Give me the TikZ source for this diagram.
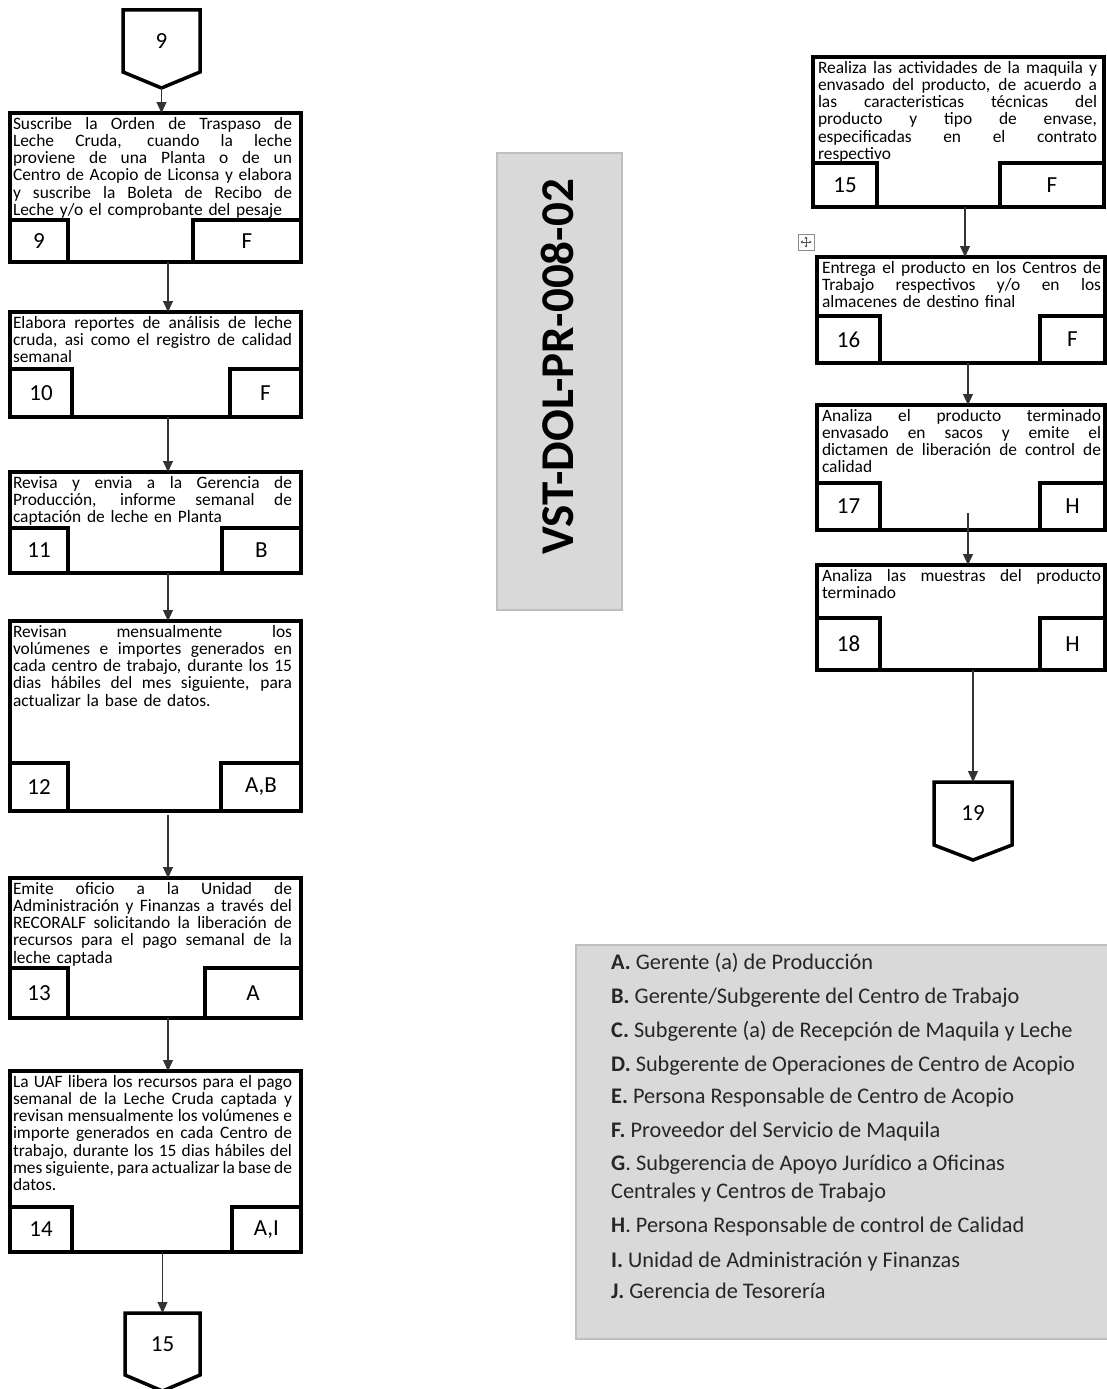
\documentclass[tikz,border=0pt]{standalone}
\usepackage{fontspec}
\setmainfont{Carlito}
\usetikzlibrary{arrows.meta,calc}
\newcommand\JL[1]{\leavevmode\hbox to 279pt{\spaceskip=0.226em plus 1fil minus 0.09em\relax #1}\\}
\begin{document}
\begin{tikzpicture}[x=1pt,y=-1pt,
  pbox/.style={draw, line width=3.5pt, fill=white, inner sep=0, outer sep=0, anchor=north west},
  idbox/.style={draw, line width=3.5pt, fill=white, inner sep=0, outer sep=0, font=\fontsize{23pt}{24pt}\selectfont},
  ptext/.style={inner sep=0, outer sep=0, anchor=north west, text width=279pt, align=left, font=\fontsize{17.4pt}{17.3pt}\selectfont},
  conn/.style={inner sep=0, outer sep=0, font=\fontsize{23pt}{24pt}\selectfont},
  connline/.style={draw, line width=3.5pt, line join=miter, fill=white},
  arr/.style={draw=black!80, line width=1.2pt, -{Triangle[length=11pt,width=10pt]}},
  graypanel/.style={draw=black!25, line width=1.2pt, fill=black!15, inner sep=0, outer sep=0, anchor=north west},
  legtext/.style={anchor=base west, inner sep=0, text=black!85, font=\fontsize{22.3pt}{23pt}\selectfont}]
\useasboundingbox (0,0) rectangle (1107,1389);

% ---------- left column ----------
\node[conn, minimum width=77, minimum height=62] (c9) at (161.5,41) {};
\draw[connline] (c9.north west) -- (c9.north east) -- (c9.south east) -- ($(c9.south)+(0,16)$) coordinate (c9tip) -- (c9.south west) -- cycle;
\node[conn] (c9lbl) at (c9) {9};

\coordinate (xL) at (168,0);

% box 9
\node[pbox, minimum width=291, minimum height=149] (b9) at (10,113) {};
\node[idbox, anchor=south west, minimum width=58, minimum height=42] (n9) at (b9.south west) {9};
\node[idbox, anchor=south east, minimum width=108, minimum height=42] (r9) at (b9.south east) {F};
\node[ptext] (t9) at ($(b9.north west)+(3,4)$) {\JL{Suscribe la Orden de Traspaso de}\JL{Leche Cruda, cuando la leche}\JL{proviene de una Planta o de un}\JL{Centro de Acopio de Liconsa y elabora}\JL{y suscribe la Boleta de Recibo de}Leche y/o el comprobante del pesaje};

% box 10
\node[pbox, minimum width=291, minimum height=105] (b10) at (10,312) {};
\node[idbox, anchor=south west, minimum width=62, minimum height=48] (n10) at (b10.south west) {10};
\node[idbox, anchor=south east, minimum width=71, minimum height=48] (r10) at (b10.south east) {F};
\node[ptext] (t10) at ($(b10.north west)+(3,4)$) {\JL{Elabora reportes de análisis de leche}\JL{cruda, asi como el registro de calidad}semanal};

% box 11
\node[pbox, minimum width=291, minimum height=101] (b11) at (10,472) {};
\node[idbox, anchor=south west, minimum width=58, minimum height=45] (n11) at (b11.south west) {11};
\node[idbox, anchor=south east, minimum width=79, minimum height=45] (r11) at (b11.south east) {B};
\node[ptext] (t11) at ($(b11.north west)+(3,4)$) {\JL{Revisa y envia a la Gerencia de}\JL{Producción, informe semanal de}captación de leche en Planta};

% box 12
\node[pbox, minimum width=291, minimum height=190] (b12) at (10,621) {};
\node[idbox, anchor=south west, minimum width=58, minimum height=48] (n12) at (b12.south west) {12};
\node[idbox, anchor=south east, minimum width=80, minimum height=48] (r12) at (b12.south east) {A,B};
\node[ptext] (t12) at ($(b12.north west)+(3,4)$) {\JL{Revisan mensualmente los}\JL{volúmenes e importes generados en}\JL{cada centro de trabajo, durante los 15}\JL{dias hábiles del mes siguiente, para}actualizar la base de datos.};

% box 13
\node[pbox, minimum width=291, minimum height=140] (b13) at (10,878) {};
\node[idbox, anchor=south west, minimum width=58, minimum height=50] (n13) at (b13.south west) {13};
\node[idbox, anchor=south east, minimum width=96, minimum height=50] (r13) at (b13.south east) {A};
\node[ptext] (t13) at ($(b13.north west)+(3,4)$) {\JL{Emite oficio a la Unidad de}\JL{Administración y Finanzas a través del}\JL{RECORALF solicitando la liberación de}\JL{recursos para el pago semanal de la}leche captada};

% box 14
\node[pbox, minimum width=291, minimum height=181] (b14) at (10,1071) {};
\node[idbox, anchor=south west, minimum width=62, minimum height=45] (n14) at (b14.south west) {14};
\node[idbox, anchor=south east, minimum width=69, minimum height=45] (r14) at (b14.south east) {A,I};
\node[ptext] (t14) at ($(b14.north west)+(3,4)$) {\JL{La UAF libera los recursos para el pago}\JL{semanal de la Leche Cruda captada y}\JL{revisan mensualmente los volúmenes e}\JL{importe generados en cada Centro de}\JL{trabajo, durante los 15 dias hábiles del}\JL{mes siguiente, para actualizar la base de}datos.};

\node[conn, minimum width=75, minimum height=62] (c15) at (162.5,1344) {};
\draw[connline] (c15.north west) -- (c15.north east) -- (c15.south east) -- ($(c15.south)+(0,16)$) -- (c15.south west) -- cycle;
\node[conn] (c15lbl) at (c15) {15};

% left arrows
\draw[arr] (c9tip) -- (c9tip |- b9.north);
\draw[arr] (b9.south -| xL) -- (b10.north -| xL);
\draw[arr] (b10.south -| xL) -- (b11.north -| xL);
\draw[arr] (b11.south -| xL) -- (b12.north -| xL);
\draw[arr] ($(b12.south -| xL)+(0,4)$) -- (b13.north -| xL);
\draw[arr] (b13.south -| xL) -- (b14.north -| xL);
\draw[arr] (b14.south -| c15) -- (c15.north);

% ---------- label panel ----------
\node[graypanel, minimum width=125, minimum height=457] (lbl) at (497,153) {};
\node[rotate=90, inner sep=0, font=\fontsize{47pt}{47pt}\selectfont\bfseries] (code) at (557,367) {VST-DOL-PR-008-02};

% ---------- right column ----------
\coordinate (xR1) at (965,0);
\coordinate (xR2) at (968,0);

% box 15
\node[pbox, minimum width=291, minimum height=150] (b15) at (813,57) {};
\node[idbox, anchor=south west, minimum width=64, minimum height=44] (n15) at (b15.south west) {15};
\node[idbox, anchor=south east, minimum width=104, minimum height=44] (r15) at (b15.south east) {F};
\node[ptext] (t15) at ($(b15.north west)+(5,4)$) {\JL{Realiza las actividades de la maquila y}\JL{envasado del producto, de acuerdo a}\JL{las caracteristicas técnicas del}\JL{producto y tipo de envase,}\JL{especificadas en el contrato}respectivo};

% move handle icon
\node[draw=black!45, line width=0.8pt, fill=white, minimum size=16, inner sep=0, outer sep=0] (mv) at (806,242) {};
\draw[black!65, line width=0.6pt, {Triangle[length=2pt,width=3pt]}-{Triangle[length=2pt,width=3pt]}] ($(mv.center)+(-5.5,0)$) -- ($(mv.center)+(5.5,0)$);
\draw[black!65, line width=0.6pt, {Triangle[length=2pt,width=3pt]}-{Triangle[length=2pt,width=3pt]}] ($(mv.center)+(0,-5.5)$) -- ($(mv.center)+(0,5.5)$);

% box 16
\node[pbox, minimum width=288, minimum height=106] (b16) at (817,257) {};
\node[idbox, anchor=south west, minimum width=63, minimum height=47] (n16) at (b16.south west) {16};
\node[idbox, anchor=south east, minimum width=65, minimum height=47] (r16) at (b16.south east) {F};
\node[ptext] (t16) at ($(b16.north west)+(5,4)$) {\JL{Entrega el producto en los Centros de}\JL{Trabajo respectivos y/o en los}almacenes de destino final};

% box 17
\node[pbox, minimum width=288, minimum height=125] (b17) at (817,405) {};
\node[idbox, anchor=south west, minimum width=63, minimum height=47] (n17) at (b17.south west) {17};
\node[idbox, anchor=south east, minimum width=65, minimum height=47] (r17) at (b17.south east) {H};
\node[ptext] (t17) at ($(b17.north west)+(5,4)$) {\JL{Analiza el producto terminado}\JL{envasado en sacos y emite el}\JL{dictamen de liberación de control de}calidad};

% box 18
\node[pbox, minimum width=288, minimum height=105] (b18) at (817,565) {};
\node[idbox, anchor=south west, minimum width=63, minimum height=52] (n18) at (b18.south west) {18};
\node[idbox, anchor=south east, minimum width=65, minimum height=52] (r18) at (b18.south east) {H};
\node[ptext] (t18) at ($(b18.north west)+(5,4)$) {\JL{Analiza las muestras del producto}terminado};

\node[conn, minimum width=78, minimum height=63] (c19) at (973,813.5) {};
\draw[connline] (c19.north west) -- (c19.north east) -- (c19.south east) -- ($(c19.south)+(0,15)$) -- (c19.south west) -- cycle;
\node[conn] (c19lbl) at (c19) {19};

% right arrows
\draw[arr] (b15.south -| xR1) -- (b16.north -| xR1);
\draw[arr] (b16.south -| xR2) -- (b17.north -| xR2);
\draw[arr] ($(b17.south -| xR2)+(0,-17)$) -- (b18.north -| xR2);
\draw[arr] (b18.south -| c19) -- (c19.north);

% ---------- legend ----------
\node[graypanel, minimum width=545, minimum height=394] (leg) at (576,945) {};
\node[legtext] (l1) at (611,969) {\textbf{A.} Gerente (a) de Producción};
\node[legtext] (l2) at (611,1003) {\textbf{B.} Gerente/Subgerente del Centro de Trabajo};
\node[legtext] (l3) at (611,1037) {\textbf{C.} Subgerente (a) de Recepción de Maquila y Leche};
\node[legtext] (l4) at (611,1071) {\textbf{D.} Subgerente de Operaciones de Centro de Acopio};
\node[legtext] (l5) at (611,1103) {\textbf{E.} Persona Responsable de Centro de Acopio};
\node[legtext] (l6) at (611,1137) {\textbf{F.} Proveedor del Servicio de Maquila};
\node[legtext] (l7) at (611,1170) {\textbf{G}. Subgerencia de Apoyo Jurídico a Oficinas};
\node[legtext] (l8) at (611,1198) {Centrales y Centros de Trabajo};
\node[legtext] (l9) at (611,1232) {\textbf{H}. Persona Responsable de control de Calidad};
\node[legtext] (l10) at (611,1267) {\textbf{I.} Unidad de Administración y Finanzas};
\node[legtext] (l11) at (611,1298) {\textbf{J.} Gerencia de Tesorería};
\end{tikzpicture}
\end{document}
